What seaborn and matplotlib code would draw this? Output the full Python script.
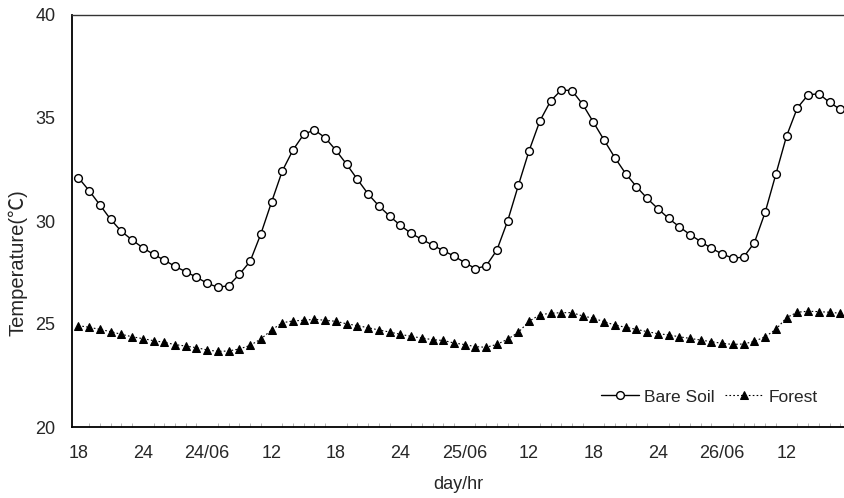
import numpy as np
import pandas as pd
import matplotlib
matplotlib.use("Agg")
import matplotlib.pyplot as plt
import seaborn as sns

# Hourly observations, starting 18:00 on day 23
hours = list(range(72))

bare_soil = [
    32.10, 31.47, 30.78, 30.08, 29.50, 29.08, 28.70, 28.38, 28.10, 27.80,
    27.54, 27.27, 26.98, 26.78, 26.86, 27.41, 28.04, 29.37, 30.92, 32.43,
    33.45, 34.21, 34.42, 34.04, 33.43, 32.75, 32.02, 31.31, 30.73, 30.24,
    29.79, 29.40, 29.11, 28.83, 28.56, 28.30, 27.98, 27.69, 27.82, 28.59,
    30.00, 31.73, 33.41, 34.85, 35.82, 36.36, 36.33, 35.66, 34.79, 33.92,
    33.07, 32.30, 31.67, 31.10, 30.60, 30.13, 29.72, 29.34, 29.00, 28.67,
    28.40, 28.19, 28.25, 28.95, 30.42, 32.27, 34.13, 35.49, 36.12, 36.18,
    35.76, 35.42,
]

forest = [
    24.92, 24.84, 24.74, 24.63, 24.50, 24.38, 24.29, 24.19, 24.11, 24.00,
    23.93, 23.85, 23.74, 23.67, 23.69, 23.79, 23.96, 24.27, 24.71, 25.06,
    25.15, 25.18, 25.23, 25.18, 25.13, 25.01, 24.92, 24.82, 24.71, 24.61,
    24.50, 24.40, 24.32, 24.24, 24.20, 24.08, 24.00, 23.90, 23.87, 24.01,
    24.26, 24.60, 25.13, 25.45, 25.52, 25.55, 25.55, 25.39, 25.28, 25.11,
    24.95, 24.84, 24.74, 24.63, 24.53, 24.47, 24.38, 24.30, 24.22, 24.14,
    24.06, 24.01, 24.03, 24.16, 24.38, 24.74, 25.31, 25.57, 25.62, 25.60,
    25.57, 25.52,
]

tick_hours = [0, 6, 12, 18, 24, 30, 36, 42, 48, 54, 60, 66]
tick_labels = ["18", "24", "24/06", "12", "18", "24", "25/06", "12",
               "18", "24", "26/06", "12"]

y_ticks = [20, 25, 30, 35, 40]

df = pd.DataFrame({"hour": hours, "Bare Soil": bare_soil, "Forest": forest})

sns.set_style("white")
plt.rcParams["font.family"] = ["Liberation Sans", "DejaVu Sans"]

fig = plt.figure(figsize=(8.44, 4.98), dpi=100)
ax = fig.add_axes([72 / 844, 71 / 498, 772 / 844, 412 / 498])

sns.lineplot(data=df, x="hour", y="Bare Soil", ax=ax, color="black",
             linewidth=1.0, marker="o", markersize=5.6,
             markerfacecolor="white", markeredgecolor="black",
             markeredgewidth=1.0, label="Bare Soil")
sns.lineplot(data=df, x="hour", y="Forest", ax=ax, color="black",
             linewidth=0.8, linestyle=(0, (1.5, 2.0)), marker="^",
             markersize=6.0, markerfacecolor="black",
             markeredgecolor="black", label="Forest")

ax.set_xlim(-0.6, 71.35)
ax.set_ylim(20, 40)

ax.set_xticks(tick_hours)
ax.set_xticklabels(tick_labels)
ax.set_xticks(hours, minor=True)
ax.set_yticks(y_ticks)
ax.set_yticklabels([str(v) for v in y_ticks])

ax.tick_params(axis="x", which="major", length=0, pad=13, labelsize=13)
ax.tick_params(axis="y", which="major", length=0, pad=12, labelsize=13)
ax.tick_params(axis="x", which="minor", direction="in", length=3,
               width=0.6, color="#aaaaaa", bottom=True)

for side in ("left", "bottom"):
    ax.spines[side].set_color("black")
    ax.spines[side].set_linewidth(1.3)
ax.spines["top"].set_color("#333333")
ax.spines["top"].set_linewidth(1.0)
ax.spines["right"].set_visible(False)

ax.set_xlabel("day/hr", fontsize=13, labelpad=10)
ax.set_ylabel("Temperature(℃)", fontsize=14.5,
              family=["Liberation Sans", "Noto Sans CJK SC"])
ax.yaxis.set_label_coords(-0.058, 0.40)

leg = ax.legend(loc="center right", bbox_to_anchor=(0.975, 0.073), ncol=2,
                frameon=False, fontsize=12.5, handlelength=2.2,
                handletextpad=0.3, columnspacing=0.6, borderaxespad=0)

fig.savefig("out.png", dpi=100)
